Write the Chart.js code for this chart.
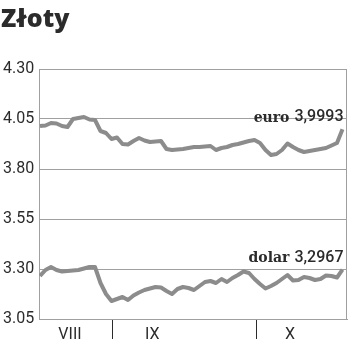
<!DOCTYPE html>
<html>
<head>
<meta charset="utf-8">
<style>
  html, body { margin: 0; padding: 0; background: #fff; }
  canvas { display: block; }
</style>
<script src="https://cdn.jsdelivr.net/npm/chart.js@4.4.1/dist/chart.umd.min.js"></script>
</head>
<body>
<canvas id="chart" width="350" height="351"></canvas>
<script>
// kursy dzienne (sesje od połowy sierpnia)
const euroValues = [
  4.015, 4.0175, 4.03, 4.0275, 4.015, 4.01, 4.05, 4.055, 4.06, 4.0475,
  4.045, 3.99, 3.98, 3.95, 3.9575, 3.925, 3.9225, 3.94, 3.955, 3.9425,
  3.935, 3.9375, 3.94, 3.9, 3.895, 3.8975, 3.9, 3.905, 3.91, 3.91,
  3.9125, 3.915, 3.895, 3.905, 3.91, 3.92, 3.925, 3.9325, 3.94, 3.945,
  3.93, 3.895, 3.87, 3.875, 3.895, 3.9275, 3.91, 3.895, 3.885, 3.89,
  3.895, 3.9, 3.905, 3.9175, 3.93, 3.9993,
];
const dollarValues = [
  3.265, 3.295, 3.31, 3.295, 3.2875, 3.29, 3.2925, 3.295, 3.3025, 3.31,
  3.31, 3.23, 3.175, 3.14, 3.15, 3.16, 3.145, 3.1675, 3.1825, 3.195,
  3.2025, 3.21, 3.2075, 3.19, 3.175, 3.2, 3.21, 3.205, 3.195, 3.215,
  3.235, 3.24, 3.23, 3.25, 3.235, 3.255, 3.27, 3.2875, 3.28, 3.25,
  3.225, 3.2025, 3.215, 3.23, 3.25, 3.27, 3.2425, 3.245, 3.26, 3.255,
  3.245, 3.25, 3.2675, 3.265, 3.2575, 3.2967,
];
const seriesNames = ["euro", "dolar"];
const lastLabels = ["3,9993", "3,2967"];

const yTicks = [3.05, 3.3, 3.55, 3.8, 4.05, 4.3];
const monthLabels = ["VIII", "IX", "X"];
const monthCenters = [5.45, 20.4, 45.45];
const monthBounds = [13.1, 39.3];

const LINE = "#8c8c8c";
const GRID = "#a0a0a0";
const TEXT = "#2b2b2b";

function toPoints(vals) {
  return vals.map((v, i) => ({ x: i, y: v }));
}

const extras = {
  id: "extras",
  afterDraw(chart) {
    const { ctx, chartArea, scales } = chart;
    ctx.save();
    // tytuł
    ctx.fillStyle = TEXT;
    ctx.font = "800 25px 'Open Sans', sans-serif";
    ctx.textBaseline = "alphabetic";
    ctx.textAlign = "left";
    ctx.fillText("Złoty", 1, 27);

    // prawa ramka
    ctx.strokeStyle = GRID;
    ctx.lineWidth = 1;
    ctx.beginPath();
    ctx.moveTo(chartArea.right - 0.5, chartArea.top);
    ctx.lineTo(chartArea.right - 0.5, chartArea.bottom);
    ctx.stroke();

    // podpisy końcowych wartości
    const series = [euroValues, dollarValues];
    series.forEach((vals, k) => {
      const last = vals.length - 1;
      const x = scales.x.getPixelForValue(last) + 1;
      const y = scales.y.getPixelForValue(vals[last]) - 12;
      ctx.textBaseline = "middle";
      ctx.textAlign = "right";
      ctx.font = "500 16px Roboto, sans-serif";
      ctx.fillStyle = TEXT;
      const num = lastLabels[k];
      ctx.fillText(num, x, y);
      const w = ctx.measureText(num).width;
      ctx.font = "bold 14px 'DejaVu Serif', serif";
      ctx.fillText(seriesNames[k], x - w - 5, y + 1);
    });
    ctx.restore();
  },
};

new Chart(document.getElementById("chart"), {
  type: "line",
  data: {
    datasets: [
      { label: seriesNames[0], data: toPoints(euroValues) },
      { label: seriesNames[1], data: toPoints(dollarValues) },
    ],
  },
  options: {
    responsive: false,
    animation: false,
    layout: { padding: { top: 69, left: 3, right: 3, bottom: 0 } },
    plugins: { legend: { display: false }, tooltip: { enabled: false } },
    elements: {
      line: { borderColor: LINE, borderWidth: 4, tension: 0, borderJoinStyle: "round" },
      point: { radius: 0 },
    },
    scales: {
      x: {
        type: "linear",
        min: -0.18,
        max: 55.82,
        afterFit: (s) => { s.height = 32; },
        afterBuildTicks: (s) => {
          s.ticks = monthBounds.map((v) => ({ value: v, label: "" }))
            .concat(monthCenters.map((v, i) => ({ value: v, label: monthLabels[i] })));
        },
        border: { color: GRID, width: 1 },
        grid: {
          drawOnChartArea: false,
          tickLength: 20,
          tickWidth: 1,
          tickColor: (c) => (c.tick && c.tick.label === "" ? TEXT : "rgba(0,0,0,0)"),
        },
        ticks: {
          autoSkip: false,
          maxRotation: 0,
          padding: -14,
          color: TEXT,
          font: { family: "Roboto", size: 16 },
          callback: function (v, i, ticks) { return ticks[i].label; },
        },
      },
      y: {
        min: 3.05,
        max: 4.3,
        afterFit: (s) => { s.width = 36; },
        afterBuildTicks: (s) => { s.ticks = yTicks.map((v) => ({ value: v })); },
        border: { color: GRID, width: 1 },
        grid: { color: GRID, lineWidth: 1, tickLength: 0 },
        ticks: {
          crossAlign: "far",
          padding: 4,
          color: TEXT,
          font: { family: "Roboto", size: 16 },
          callback: (v) => v.toFixed(2),
        },
      },
    },
  },
  plugins: [extras],
});
</script>
</body>
</html>
